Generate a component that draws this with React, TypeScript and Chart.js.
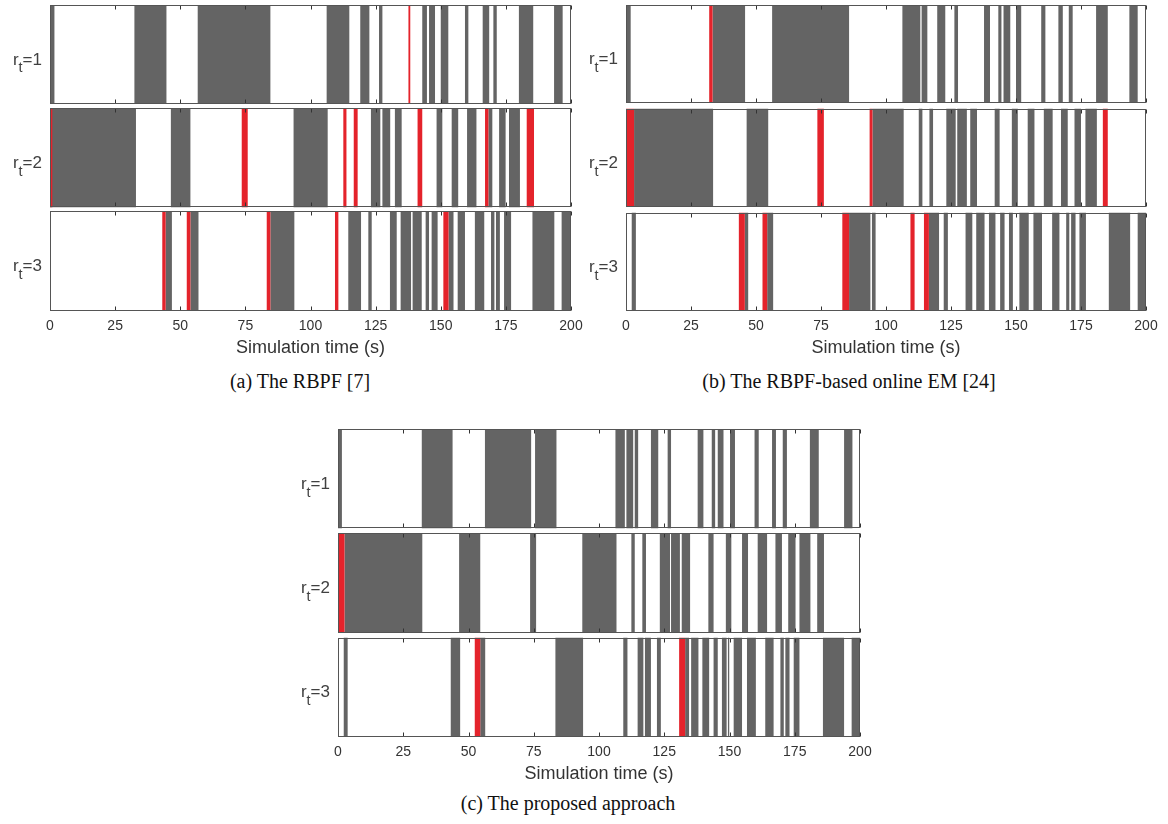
import React, { useEffect, useRef } from 'react';
import { Chart, registerables } from 'chart.js';

Chart.register(...registerables);

type Iv = [number, number];

// ---- axis / labels ----
const ROW_KEYS = ['1', '2', '3'];
const X_TICKS = [0, 25, 50, 75, 100, 125, 150, 175, 200];
const X_TITLE = 'Simulation time (s)';

// ---- (a) The RBPF [7] ----
const A_R1_MODE: Iv[] = [[0, 1.7], [32.4, 44.7], [56.7, 84.6], [106.2, 114.9], [119.1, 122.6], [126.3, 127.6], [142.9, 144.7], [145.5, 147.8], [150, 152.9], [159.3, 160.6], [166.1, 168.6], [170.2, 171.5], [180, 185.5], [193.5, 196.8]];
const A_R1_ERR: Iv[] = [[137.6, 138.3]];
const A_R2_MODE: Iv[] = [[0, 33], [46.4, 53.9], [93.5, 106.6], [123.2, 126.8], [127.6, 130.6], [132.4, 135], [148.4, 150.6], [154.2, 156.7], [160.1, 163.7], [168.3, 169.8], [172.4, 174.9], [176.2, 180.4]];
const A_R2_ERR: Iv[] = [[0, 0.9], [73.6, 75.9], [112.6, 113.8], [116.6, 118.1], [141.1, 142.9], [167, 168.3], [183, 185.8]];
const A_R3_MODE: Iv[] = [[44.4, 46.8], [53.9, 57], [84.6, 93.8], [114.5, 119.4], [122.2, 123.5], [130.5, 133.1], [134.6, 138.6], [139.2, 142.7], [144.2, 145.5], [146.5, 148.8], [153, 154.9], [156.5, 159.3], [163.1, 166.7], [169.3, 170.6], [171.2, 172.7], [174.3, 177], [185.2, 193.6], [196.4, 200]];
const A_R3_ERR: Iv[] = [[43.1, 44.4], [52.5, 53.9], [83.2, 84.6], [109.4, 110.7], [151, 153]];

// ---- (b) The RBPF-based online EM [24] ----
const B_R1_MODE: Iv[] = [[0, 1.8], [33.3, 45.8], [56.2, 85.8], [106.3, 113.2], [113.7, 115.9], [119.7, 122.8], [126.3, 127.7], [137.7, 140], [143.2, 144.4], [145.2, 147.8], [150, 152], [159.7, 161.3], [166.3, 168], [170.3, 171.8], [180.8, 185.3], [193.6, 196.8]];
const B_R1_ERR: Iv[] = [[32, 33.3]];
const B_R2_MODE: Iv[] = [[3.1, 33.5], [46.4, 54.7], [94.8, 106.8], [112.6, 114], [116.7, 118.1], [123.2, 126.8], [127.4, 131.1], [132.4, 135], [141.8, 143.7], [148.4, 150.7], [154.5, 157.1], [160.7, 164.1], [167.3, 169.9], [172.5, 175], [176.7, 181.1]];
const B_R2_ERR: Iv[] = [[0, 3.1], [73.6, 76.1], [93.7, 94.8], [183.4, 185.3]];
const B_R3_MODE: Iv[] = [[2.2, 3.8], [45.7, 47], [54.3, 56.6], [85.8, 94], [94.6, 96], [116.5, 120.4], [122.2, 123.8], [130.6, 133.2], [134.7, 137.9], [139.6, 142.1], [143.9, 145.6], [147.3, 148.8], [151.3, 154.9], [156.7, 160], [163.9, 166.7], [169.3, 170.5], [171.2, 172.9], [174.4, 176.9], [185.7, 193.9], [196.8, 200]];
const B_R3_ERR: Iv[] = [[43.4, 45.7], [52.5, 54.3], [83.2, 85.8], [109.4, 111], [114.6, 116.5]];

// ---- (c) The proposed approach ----
const C_R1_MODE: Iv[] = [[0, 1.5], [32.1, 43.9], [56.3, 74], [75.5, 83.7], [106.3, 109.9], [110.5, 113.1], [113.7, 115], [119.9, 122.7], [126.3, 127.6], [137.8, 140], [143.2, 144.5], [145.5, 147.7], [150.2, 152.1], [159.6, 161.2], [166.3, 167.8], [170.4, 172], [180.8, 184.2], [193.9, 197.1]];
const C_R1_ERR: Iv[] = [];
const C_R2_MODE: Iv[] = [[2.5, 32.3], [46.4, 54.5], [73.6, 75.9], [93.6, 106.7], [112.4, 113.7], [116.6, 118], [123.3, 127.2], [127.6, 131], [131.7, 134.9], [141.9, 143.9], [148.6, 150.7], [154.8, 157.1], [160.8, 164.4], [167.6, 170.1], [172.5, 175.3], [176.8, 181], [183.6, 186.2]];
const C_R2_ERR: Iv[] = [[0, 2.5]];
const C_R3_MODE: Iv[] = [[2.2, 3.7], [43.2, 46.8], [54.5, 56.4], [83.3, 93.9], [109.3, 110.9], [114.8, 117], [117.6, 119.9], [122.2, 123.7], [133, 134.5], [135.3, 138.1], [139.6, 142.2], [143.9, 145.5], [147.1, 148.9], [149.4, 149.9], [151.6, 154.8], [156.7, 160.1], [163.7, 166.9], [169.5, 170.8], [171.4, 173], [174.6, 176.8], [185.8, 193.9], [196.8, 200]];
const C_R3_ERR: Iv[] = [[52.4, 54.5], [130.7, 133]];

// ---- styles ----
const GRAY = '#646464';
const RED = '#e4232b';
const FRAME = '#555555';
const TEXT = '#333333';
const SANS = '"Liberation Sans", Arial, sans-serif';
const SERIF = '"Liberation Serif", "Times New Roman", serif';
const PAD_X = 18;
const TICK_FONT = 14;
const TITLE_FONT = 18;

type PanelCfg = {
  id: string;
  caption: string;
  mode: Iv[][];
  err: Iv[][];
  plotLeft: number;
  plotRight: number;
  rowsTop: number;
  rowsBottom: number;
  pct: number;
  tickY: number;
  titleY: number;
  captionX: number;
  captionY: number;
};

const PANELS: PanelCfg[] = [
  {
    id: 'a', caption: '(a) The RBPF [7]',
    mode: [A_R1_MODE, A_R2_MODE, A_R3_MODE], err: [A_R1_ERR, A_R2_ERR, A_R3_ERR],
    plotLeft: 50, plotRight: 571, rowsTop: 5, rowsBottom: 310.5, pct: 0.96,
    tickY: 326, titleY: 348, captionX: 300, captionY: 381,
  },
  {
    id: 'b', caption: '(b) The RBPF-based online EM [24]',
    mode: [B_R1_MODE, B_R2_MODE, B_R3_MODE], err: [B_R1_ERR, B_R2_ERR, B_R3_ERR],
    plotLeft: 626, plotRight: 1146, rowsTop: 5, rowsBottom: 310.5, pct: 0.942,
    tickY: 326, titleY: 348, captionX: 849, captionY: 381,
  },
  {
    id: 'c', caption: '(c) The proposed approach',
    mode: [C_R1_MODE, C_R2_MODE, C_R3_MODE], err: [C_R1_ERR, C_R2_ERR, C_R3_ERR],
    plotLeft: 338, plotRight: 860, rowsTop: 429, rowsBottom: 737, pct: 0.952,
    tickY: 752, titleY: 774, captionX: 568, captionY: 803,
  },
];

function geom(p: PanelCfg) {
  const band = (p.rowsBottom - p.rowsTop) / (2 + p.pct);
  const areaTop = p.rowsTop - ((1 - p.pct) * band) / 2;
  const canvasTop = Math.max(0, Math.floor(areaTop) - 2);
  const padTop = areaTop - canvasTop;
  const chartH = 3 * band;
  const areaBottom = areaTop + chartH;
  const titleLH = TITLE_FONT * 1.2;
  const scaleBottom = p.titleY + titleLH / 2;
  const axisH = scaleBottom - areaBottom;
  const canvasH = Math.ceil(scaleBottom - canvasTop + 2);
  const padBottom = canvasH - (scaleBottom - canvasTop);
  const canvasLeft = p.plotLeft - PAD_X;
  const plotW = p.plotRight - p.plotLeft;
  const canvasW = Math.ceil(plotW + 2 * PAD_X);
  const padRight = canvasW - plotW - PAD_X;
  const tickPad = p.tickY - areaBottom - (TICK_FONT * 1.2) / 2;
  const rowCenters = [0, 1, 2].map((i) => areaTop + band * (i + 0.5));
  return { band, areaTop, canvasTop, padTop, padBottom, axisH, canvasH, canvasLeft, canvasW, padRight, tickPad, rowCenters };
}

const framePlugin = {
  id: 'rowFrames',
  afterDatasetsDraw(chart: any, _args: any, opts: any) {
    const { ctx } = chart;
    const x = chart.scales.x;
    const y = chart.scales.y;
    const band = y._length / ROW_KEYS.length;
    const half = (band * opts.pct) / 2;
    ctx.save();
    ROW_KEYS.forEach((_k, i) => {
      const c = y.getPixelForValue(i);
      const top = Math.round(c - half) + 0.5;
      const bot = Math.round(c + half) - 0.5;
      const l = Math.round(x.left) + 0.5;
      const r = Math.round(x.right) - 0.5;
      ctx.strokeStyle = TEXT;
      ctx.lineWidth = 1;
      x.ticks.forEach((t: any) => {
        const px = Math.round(x.getPixelForValue(t.value)) + 0.5;
        ctx.beginPath();
        ctx.moveTo(px, top);
        ctx.lineTo(px, top + 4);
        ctx.moveTo(px, bot);
        ctx.lineTo(px, bot - 4);
        ctx.stroke();
      });
      ctx.strokeStyle = FRAME;
      ctx.strokeRect(l, top, r - l, bot - top);
    });
    ctx.restore();
  },
};

function toBars(rows: Iv[][]) {
  return rows.flatMap((ivs, r) => ivs.map(([s, e]) => ({ x: [s, e], y: ROW_KEYS[r] })));
}

function Panel({ p }: { p: PanelCfg }) {
  const ref = useRef<HTMLCanvasElement>(null);
  const g = geom(p);
  useEffect(() => {
    const chart = new Chart(ref.current as HTMLCanvasElement, {
      type: 'bar',
      data: {
        labels: ROW_KEYS,
        datasets: [
          { label: 'error', data: toBars(p.err) as any, backgroundColor: RED, order: 0 },
          { label: 'mode', data: toBars(p.mode) as any, backgroundColor: GRAY, order: 1 },
        ],
      },
      options: {
        indexAxis: 'y',
        animation: false,
        responsive: false,
        maintainAspectRatio: false,
        events: [],
        datasets: {
          bar: { grouped: false, categoryPercentage: p.pct, barPercentage: 1, borderWidth: 0 },
        },
        layout: { padding: { left: PAD_X, right: g.padRight, top: g.padTop, bottom: g.padBottom } },
        plugins: {
          legend: { display: false },
          tooltip: { enabled: false },
          rowFrames: { pct: p.pct },
        } as any,
        scales: {
          y: { type: 'category', display: false, offset: true },
          x: {
            type: 'linear',
            position: 'bottom',
            min: X_TICKS[0],
            max: X_TICKS[X_TICKS.length - 1],
            grid: { display: false, drawTicks: false },
            border: { display: false },
            ticks: {
              stepSize: X_TICKS[1] - X_TICKS[0],
              padding: g.tickPad,
              color: TEXT,
              font: { family: SANS, size: TICK_FONT },
              maxRotation: 0,
            },
            title: {
              display: true,
              text: X_TITLE,
              color: TEXT,
              padding: 0,
              font: { family: SANS, size: TITLE_FONT },
            },
            afterFit: (s: any) => {
              s.height = g.axisH;
            },
          },
        },
      },
      plugins: [framePlugin],
    });
    return () => chart.destroy();
  }, []);

  return (
    <>
      <canvas
        ref={ref}
        width={g.canvasW}
        height={g.canvasH}
        style={{ position: 'absolute', left: g.canvasLeft, top: g.canvasTop, width: g.canvasW, height: g.canvasH }}
      />
      {ROW_KEYS.map((k, i) => (
        <div
          key={k}
          style={{
            position: 'absolute',
            left: 0,
            width: p.plotLeft - 8,
            textAlign: 'right',
            top: g.rowCenters[i] - 5,
            font: `17px ${SANS}`,
            lineHeight: '20px',
            color: '#404040',
            whiteSpace: 'nowrap',
          }}
        >
          r<span style={{ fontSize: '0.85em', position: 'relative', top: '0.55em' }}>t</span>={k}
        </div>
      ))}
      <div
        style={{
          position: 'absolute',
          left: p.captionX - 300,
          width: 600,
          textAlign: 'center',
          top: p.captionY - 12,
          font: `20px ${SERIF}`,
          lineHeight: '24px',
          color: '#111',
        }}
      >
        {p.caption}
      </div>
    </>
  );
}

export default function App() {
  return (
    <div style={{ position: 'absolute', left: 0, top: 0, width: 1168, height: 824, background: '#fff', overflow: 'hidden' }}>
      {PANELS.map((p) => (
        <Panel key={p.id} p={p} />
      ))}
    </div>
  );
}
